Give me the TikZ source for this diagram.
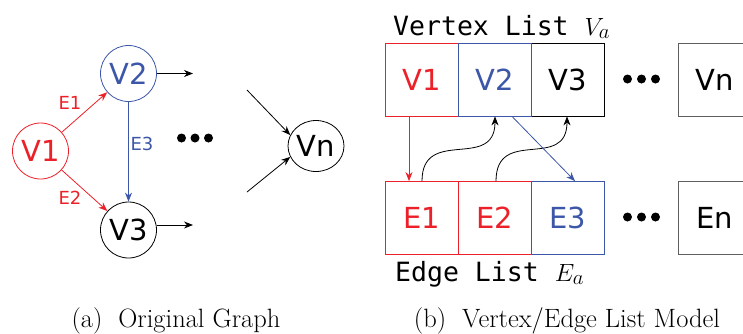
\documentclass[tikz,border=0pt]{standalone}
\usepackage{fontspec}
\newfontfamily\dvs{DejaVu Sans}
\newfontfamily\dvm{DejaVu Sans Mono}
\usetikzlibrary{arrows.meta,shapes.geometric}
\definecolor{gred}{RGB}{236,32,40}
\definecolor{gblue}{RGB}{60,86,168}
\definecolor{ggray}{RGB}{95,95,95}
\begin{document}
\begin{tikzpicture}[x=1pt,y=-1pt,
  vtx/.style={circle,draw,minimum size=56pt,inner sep=0pt,line width=0.8pt,font=\dvs\fontsize{29}{29}\selectfont},
  cell/.style={draw,minimum width=73pt,minimum height=73pt,inner sep=0pt,line width=0.8pt,font=\dvs\fontsize{29}{29}\selectfont},
  arr/.style={-{Stealth[length=9pt,width=7pt]},line width=0.8pt},
  elab/.style={font=\dvs\fontsize{18}{18}\selectfont},
  listlab/.style={anchor=base west,inner sep=0pt,font=\dvm\fontsize{26.5}{26.5}\selectfont},
  caplab/.style={anchor=base,inner sep=0pt,font=\fontsize{26.5}{28}\selectfont},
  dotfill/.style={fill=black}]
\useasboundingbox (0,0) rectangle (743,333);

% ---------- (a) original graph ----------
\node[vtx,draw=gred,text=gred] (v1) at (40.5,151) {V1};
\node[vtx,draw=gblue,text=gblue] (v2) at (128.5,73.5) {V2};
\node[vtx] (v3) at (128.5,230) {V3};
\node[ellipse,draw,minimum width=56pt,minimum height=51pt,inner sep=0pt,line width=0.8pt,font=\dvs\fontsize{29}{29}\selectfont] (vn) at (316,146) {Vn};

\draw[arr,gred] (v1) -- (v2);
\draw[arr,gred] (v1) -- (v3);
\draw[arr,gblue] (v2) -- (v3);
\node[elab,text=gred] (le1) at (70,103) {E1};
\node[elab,text=gred] (le2) at (70,198) {E2};
\node[elab,text=gblue] (le3) at (142,144) {E3};

\coordinate (o2) at (193,73.5);
\coordinate (o3) at (193,225);
\draw[arr] (v2.east) -- (o2);
\draw[arr] (o3 -| v3.east) -- (o3);

\coordinate (i1) at (247,90);
\coordinate (i2) at (247,192);
\draw[arr] (i1) -- (vn.157);
\draw[arr] (i2) -- (vn.203);

\fill[dotfill] (181.5,138) circle (4.5) (195,138) circle (4.5) (208.5,138) circle (4.5);

% ---------- (b) vertex / edge lists ----------
\node[listlab] (vl) at (393,35) {Vertex List {\fontsize{30}{30}\selectfont$V_a$}};
\node[listlab] (el) at (395,281) {Edge List {\fontsize{30}{30}\selectfont$E_a$}};

\node[cell,draw=gred,text=gred] (c1) at (421.5,79.5) {V1};
\node[cell,draw=black] (c3) at (568,79.5) {V3};
\node[cell,draw=gblue,text=gblue] (c2) at (495,79.5) {V2};
\node[cell,draw=ggray] (cn) at (714.5,79.5) {Vn};

\node[cell,draw=gred,text=gred] (e1) at (421.5,218) {E1};
\node[cell,draw=gred,text=gred] (e2) at (495,218) {E2};
\node[cell,draw=gblue,text=gblue] (e3) at (568,218) {E3};
\node[cell,draw=ggray] (en) at (714.5,218) {En};

\fill[dotfill] (627.5,79) circle (4.5) (641.5,79) circle (4.5) (655.5,79) circle (4.5);
\fill[dotfill] (627.5,217) circle (4.5) (641.5,217) circle (4.5) (655.5,217) circle (4.5);

\draw[arr,gred] ([xshift=-12.5pt]c1.south) -- ([xshift=-12.5pt]e1.north);
\draw[arr] ([xshift=0.5pt]e1.north) .. controls +(0,-55) and +(0,55) .. (c2.south);
\draw[arr] ([xshift=1pt]e2.north) .. controls +(0,-55) and +(0,55) .. ([xshift=-1pt]c3.south);
\draw[arr,gblue] ([xshift=17pt]c2.south) -- ([xshift=7pt]e3.north);

% ---------- captions ----------
\node[caplab] (capa) at (176,327) {(a)\hspace{0.3em} Original Graph};
\node[caplab] (capb) at (567,327) {(b)\hspace{0.3em} Vertex/Edge List Model};
\end{tikzpicture}
\end{document}
